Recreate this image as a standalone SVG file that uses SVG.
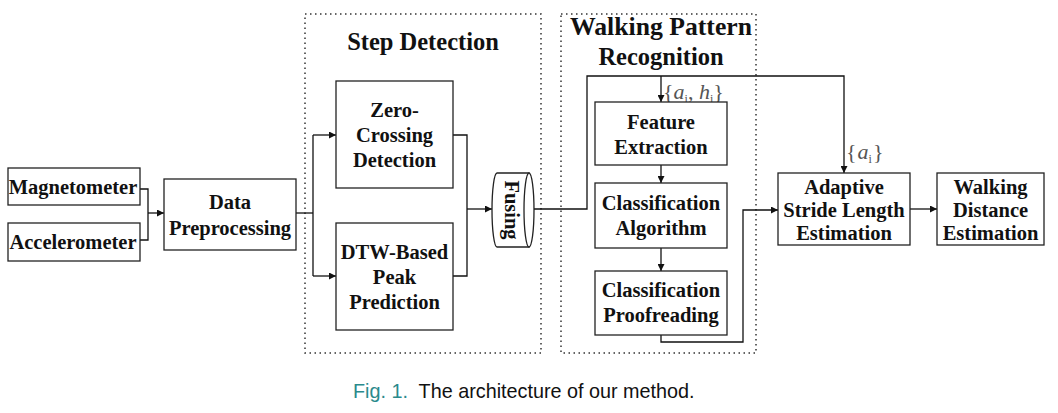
<svg xmlns="http://www.w3.org/2000/svg" width="1058" height="413" viewBox="0 0 1058 413">
<style>
.box{fill:#fff;stroke:#222;stroke-width:1.3}
.grp{fill:none;stroke:#333;stroke-width:1.5;stroke-dasharray:1.5 3.5}
.t{font-family:"Liberation Serif","Times New Roman",serif;font-weight:bold;font-size:20.5px;fill:#111;text-anchor:middle}
.title{font-family:"Liberation Serif","Times New Roman",serif;font-weight:bold;font-size:24.5px;fill:#111;text-anchor:middle}
.ln{fill:none;stroke:#111;stroke-width:1.3}
.math{font-family:"Liberation Serif","Times New Roman",serif;font-size:22px;fill:#555}
.cap{font-family:"Liberation Sans",Arial,sans-serif;font-size:19.8px;fill:#111}
</style>
<defs>
<marker id="ah" viewBox="0 0 10 10" refX="10" refY="5" markerWidth="7" markerHeight="7" markerUnits="userSpaceOnUse" orient="auto">
<path d="M0,0 L10,5 L0,10 z" fill="#111"/>
</marker>
</defs>
<rect width="1058" height="413" fill="#fff"/>

<g id="group-step-detection">
<rect class="grp" x="305" y="14" width="236" height="339"/>
<text class="title" x="423" y="50">Step Detection</text>
</g>
<g id="group-walking-pattern">
<rect class="grp" x="561" y="14" width="195" height="339"/>
<text class="title" x="661" y="35" textLength="182" lengthAdjust="spacingAndGlyphs">Walking Pattern</text>
<text class="title" x="661" y="65">Recognition</text>
</g>

<g id="connectors">
<polyline class="ln" points="140,189 148,189 148,240 140,240"/>
<line class="ln" x1="148" y1="213" x2="164" y2="213" marker-end="url(#ah)"/>
<line class="ln" x1="296" y1="213" x2="313" y2="213"/>
<line class="ln" x1="313" y1="135" x2="313" y2="276"/>
<line class="ln" x1="313" y1="135" x2="336" y2="135" marker-end="url(#ah)"/>
<line class="ln" x1="313" y1="276" x2="336" y2="276" marker-end="url(#ah)"/>
<polyline class="ln" points="453,135 467,135 467,276 453,276"/>
<line class="ln" x1="467" y1="209" x2="492" y2="209" marker-end="url(#ah)"/>
<polyline class="ln" points="524,209 587,209 587,76 844,76 844,173" marker-end="url(#ah)"/>
<line class="ln" x1="661" y1="76" x2="661" y2="102" marker-end="url(#ah)"/>
<line class="ln" x1="661" y1="165" x2="661" y2="183" marker-end="url(#ah)"/>
<line class="ln" x1="661" y1="248" x2="661" y2="271" marker-end="url(#ah)"/>
<polyline class="ln" points="661,335 661,342 743,342 743,210 778,210" marker-end="url(#ah)"/>
<line class="ln" x1="910" y1="209" x2="937" y2="209" marker-end="url(#ah)"/>
<text class="math" x="663" y="99">{<tspan font-style="italic">a</tspan><tspan font-size="12" dy="4">i</tspan><tspan dy="-4">, </tspan><tspan font-style="italic">h</tspan><tspan font-size="12" dy="4">i</tspan><tspan dy="-4">}</tspan></text>
<text class="math" x="846" y="159">{<tspan font-style="italic" dx="1">a</tspan><tspan font-size="12" dy="4">i</tspan><tspan dy="-4" dx="1">}</tspan></text>
</g>

<g id="node-magnetometer">
<rect class="box" x="8" y="168" width="132" height="37"/>
<text class="t" x="73" y="194">Magnetometer</text>
</g>
<g id="node-accelerometer">
<rect class="box" x="8" y="223" width="132" height="38"/>
<text class="t" x="73" y="249">Accelerometer</text>
</g>
<g id="node-data-preprocessing">
<rect class="box" x="164" y="179" width="132" height="71"/>
<text class="t" x="230" y="209">Data</text>
<text class="t" x="230" y="235">Preprocessing</text>
</g>
<g id="node-zero-crossing">
<rect class="box" x="336" y="81" width="117" height="107"/>
<text class="t" x="394.5" y="117">Zero-</text>
<text class="t" x="394.5" y="142">Crossing</text>
<text class="t" x="394.5" y="167">Detection</text>
</g>
<g id="node-dtw">
<rect class="box" x="336" y="223" width="117" height="107"/>
<text class="t" x="394.5" y="259">DTW-Based</text>
<text class="t" x="394.5" y="284">Peak</text>
<text class="t" x="394.5" y="309">Prediction</text>
</g>
<g id="node-fusing">
<path class="box" d="M497,173 L529,173 L529,247 L497,247 A5,37 0 0 1 497,173 Z"/>
<ellipse class="box" cx="529" cy="210" rx="5" ry="37"/>
<text class="t" x="0" y="0" transform="translate(505,210) rotate(90)">Fusing</text>
</g>
<g id="node-feature-extraction">
<rect class="box" x="595" y="102" width="132" height="63"/>
<text class="t" x="661" y="129">Feature</text>
<text class="t" x="661" y="154">Extraction</text>
</g>
<g id="node-classification-algorithm">
<rect class="box" x="595" y="183" width="132" height="65"/>
<text class="t" x="661" y="210">Classification</text>
<text class="t" x="661" y="235">Algorithm</text>
</g>
<g id="node-classification-proofreading">
<rect class="box" x="595" y="271" width="132" height="64"/>
<text class="t" x="661" y="297">Classification</text>
<text class="t" x="661" y="322">Proofreading</text>
</g>
<g id="node-adaptive-stride">
<rect class="box" x="778" y="173" width="132" height="72"/>
<text class="t" x="844" y="194">Adaptive</text>
<text class="t" x="844" y="217">Stride Length</text>
<text class="t" x="844" y="240">Estimation</text>
</g>
<g id="node-walking-distance">
<rect class="box" x="937" y="173" width="107" height="72"/>
<text class="t" x="990.5" y="194">Walking</text>
<text class="t" x="990.5" y="217">Distance</text>
<text class="t" x="990.5" y="240">Estimation</text>
</g>

<text class="cap" x="353" y="398" xml:space="preserve"><tspan fill="#2a8a8c">Fig. 1.</tspan>  The architecture of our method.</text>
</svg>
